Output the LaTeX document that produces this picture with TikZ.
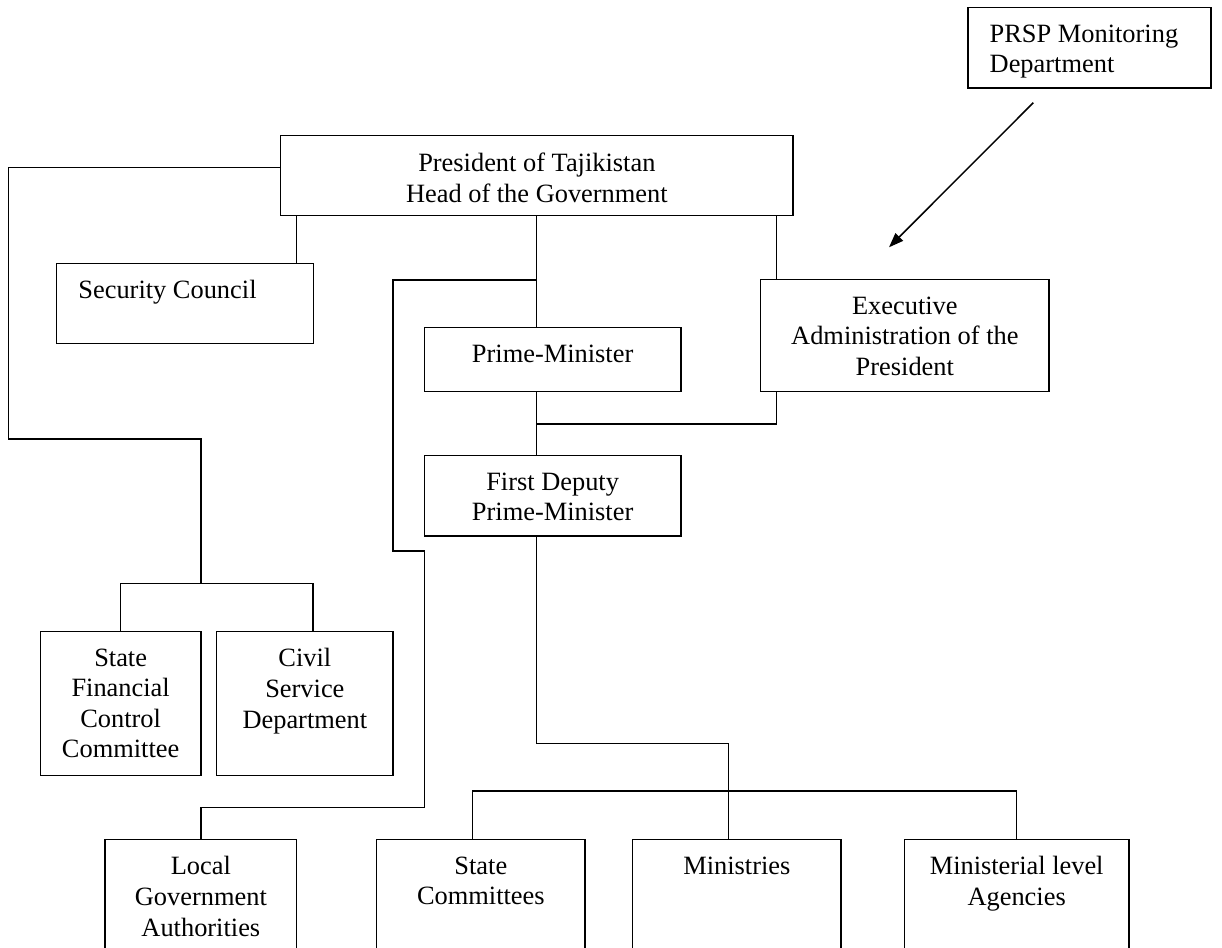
\documentclass[tikz,border=0pt]{standalone}
\usepackage{fontspec}
\setmainfont{Liberation Serif}
\usetikzlibrary{arrows.meta}
\begin{document}
\begin{tikzpicture}[x=0.75pt, y=-0.75pt, line width=1.1pt,
  box/.style 2 args={draw, rectangle, anchor=north west, inner sep=0pt, outer sep=0pt,
    minimum width=#1*0.75pt, minimum height=#2*0.75pt},
  txt/.style={anchor=north, inner sep=0pt, yshift=-12.45pt, align=center,
    font=\fontsize{19.8}{22.9}\selectfont},
  ltxt/.style={txt, anchor=north west, align=left}]
\useasboundingbox (0,0) rectangle (1222,948);
\clip (0,0) rectangle (1222,948);

% boxes
\node[box={243}{80.5}, label={[ltxt, xshift=-75.4pt]above:{PRSP Monitoring\\Department}}] (prsp) at (968,7.3) {};
\node[box={512.3}{80}, label={[txt]above:{President of Tajikistan\\Head of the Government}}] (pres) at (280.7,135.7) {};
\node[box={256.6}{80.4}, label={[ltxt, xshift=-80.5pt]above:{Security Council}}] (sc) at (56.7,263.3) {};
\node[box={288.3}{112.4}, label={[txt]above:{Executive\\Administration of the\\President}}] (ex) at (760.7,279.3) {};
\node[box={256.7}{64.4}, label={[txt]above:{Prime-Minister}}] (pm) at (424.3,327.3) {};
\node[box={256.7}{80.5}, label={[txt]above:{First Deputy\\Prime-Minister}}] (fd) at (424.3,455.3) {};
\node[box={160.7}{144.4}, label={[txt]above:{State\\Financial\\Control\\Committee}}] (sfcc) at (40.3,631.3) {};
\node[box={176.3}{144.4}, label={[txt]above:{Civil\\Service\\Department}}] (csd) at (216.7,631.3) {};
\node[box={191.7}{120}, label={[txt]above:{Local\\Government\\Authorities}}] (lga) at (105,839.3) {};
\node[box={208.3}{120}, label={[txt]above:{State\\Committees}}] (stc) at (376.7,839.3) {};
\node[box={208.3}{120}, label={[txt]above:{Ministries}}] (min) at (632.7,839.3) {};
\node[box={224.7}{120}, label={[txt]above:{Ministerial level\\Agencies}}] (mla) at (904.3,839.3) {};

% reference coordinates
\coordinate (xSC) at (296.7,0);
\coordinate (xM) at (536.7,0);
\coordinate (xE) at (776.7,0);
\coordinate (xMin) at (728.7,0);
\coordinate (xSt) at (472.7,0);
\coordinate (xCS) at (313,0);
\coordinate (yL) at (0,167.7);
\coordinate (bar) at (0,791);
\coordinate (jl) at (201,583.7);
\coordinate (jm) at (536.7,280);
\coordinate (jpe) at (536.7,424);
\coordinate (jfd) at (728.7,743.3);
\coordinate (arS) at (1033.3,102.7);
\coordinate (arE) at (889,247.3);

% connectors
\draw (pres.west |- yL) -| (8.7,439) -| (jl);
\draw (jl) -| (sfcc.north);
\draw (jl) -| (csd.north -| xCS);
\draw (pres.south -| xSC) -- (sc.north -| xSC);
\draw (pres.south -| xM) -- (pm.north -| xM);
\draw (jm) -| (393,551) -| (424.7,807.3) -| (lga.north);
\draw (pres.south -| xE) -- (ex.north -| xE);
\draw (pm.south -| xM) -- (fd.north -| xM);
\draw (jpe) -| (ex.south -| xE);
\draw (fd.south -| xM) |- (jfd) -- (min.north -| xMin);
\draw (stc.north -| xSt) -- (bar -| xSt) -- (bar -| mla.north) -- (mla.north);
\draw[-{Triangle[length=11pt,width=8pt]}] (arS) -- (arE);
\end{tikzpicture}
\end{document}
